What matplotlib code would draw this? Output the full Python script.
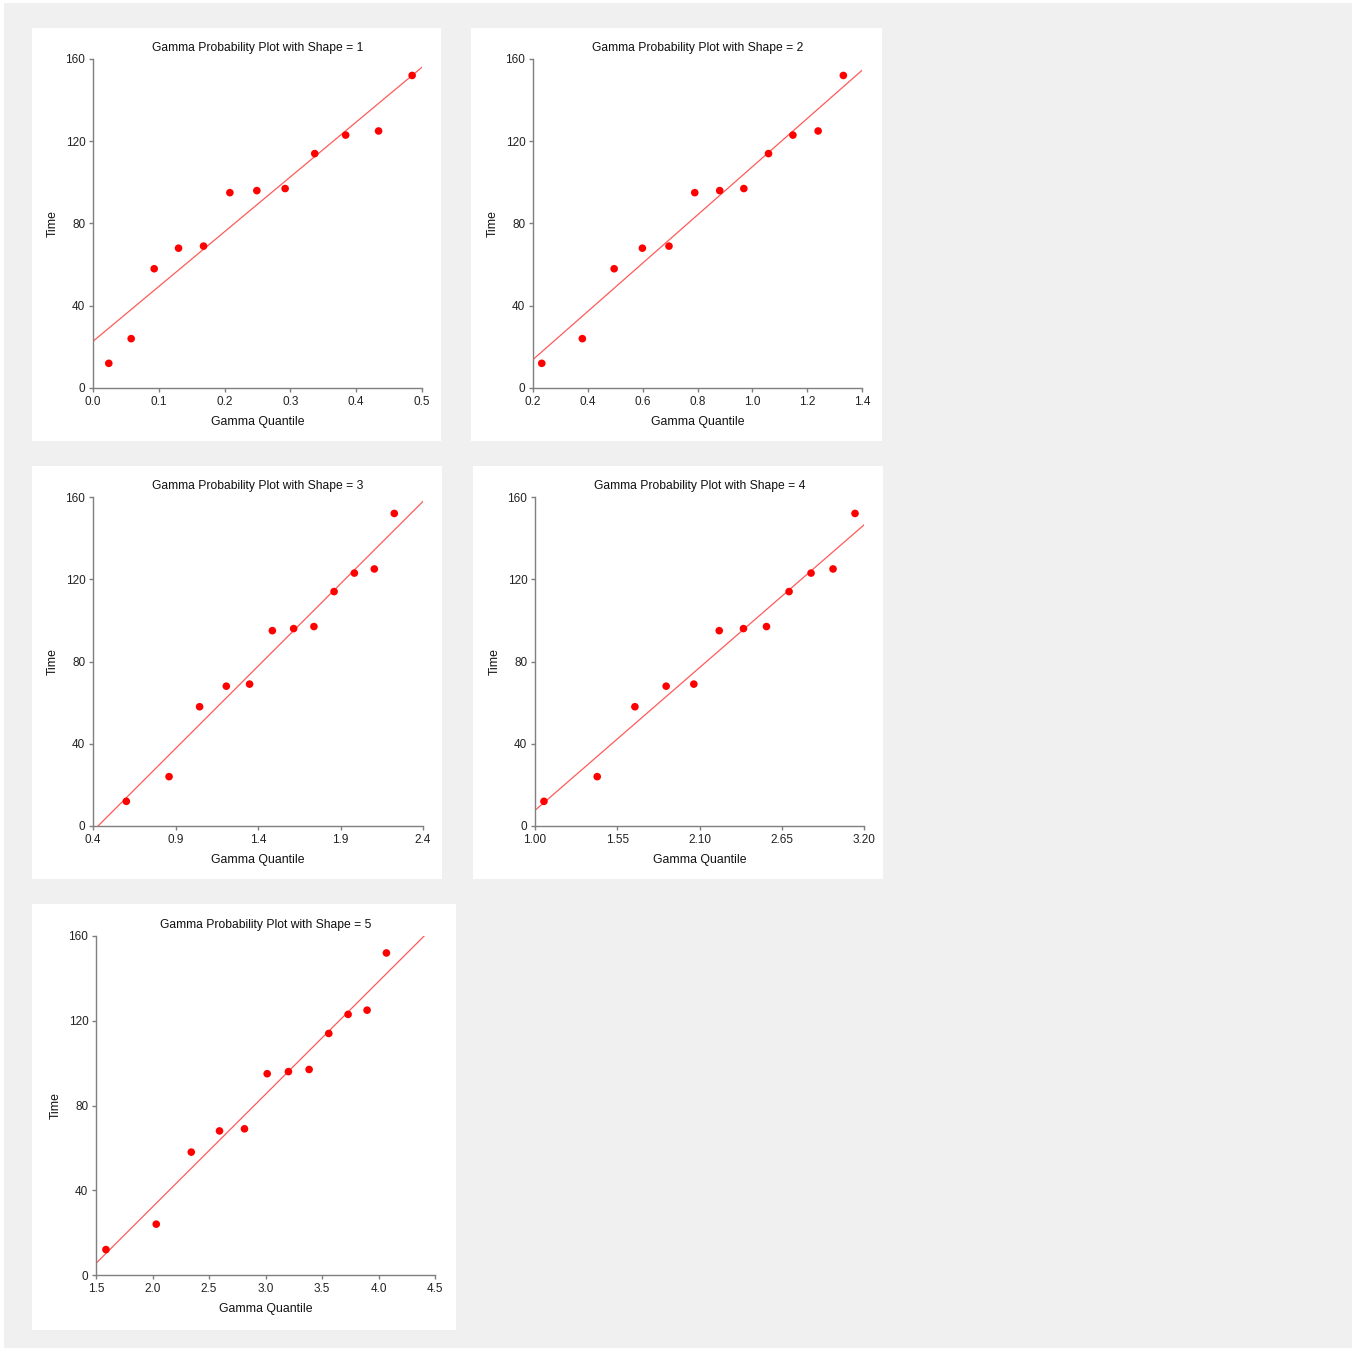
import matplotlib.pyplot as plt
from matplotlib.patches import Rectangle

plt.rcParams['font.family'] = ['Liberation Sans', 'DejaVu Sans']

# observed times (sorted)
time = [12, 24, 58, 68, 69, 95, 96, 97, 114, 123, 125, 152]

# gamma quantiles
q_shape1 = [0.024, 0.058, 0.093, 0.130, 0.168, 0.208, 0.249, 0.292, 0.337, 0.384, 0.434, 0.485]
q_shape2 = [0.232, 0.380, 0.496, 0.599, 0.696, 0.790, 0.881, 0.969, 1.059, 1.148, 1.240, 1.332]
q_shape3 = [0.602, 0.861, 1.046, 1.208, 1.349, 1.487, 1.616, 1.739, 1.861, 1.984, 2.105, 2.226]
q_shape4 = [1.060, 1.416, 1.668, 1.877, 2.062, 2.232, 2.394, 2.548, 2.699, 2.846, 2.993, 3.140]
q_shape5 = [1.588, 2.033, 2.343, 2.593, 2.814, 3.015, 3.203, 3.386, 3.560, 3.731, 3.899, 4.070]
quantiles = [q_shape1, q_shape2, q_shape3, q_shape4, q_shape5]
shapes = [1, 2, 3, 4, 5]

# fitted line (intercept, slope) for each panel
fit_intercept = [22.7, -9.6, -34.5, -55.5, -74.3]
fit_slope = [266.6, 117.2, 80.15, 63.1, 53.2]

# x-axis ticks per panel
x_ticks = [
    [0.0, 0.1, 0.2, 0.3, 0.4, 0.5],
    [0.2, 0.4, 0.6, 0.8, 1.0, 1.2, 1.4],
    [0.4, 0.9, 1.4, 1.9, 2.4],
    [1.00, 1.55, 2.10, 2.65, 3.20],
    [1.5, 2.0, 2.5, 3.0, 3.5, 4.0, 4.5],
]
x_fmt = ['%.1f', '%.1f', '%.1f', '%.2f', '%.1f']
y_ticks = [0, 40, 80, 120, 160]

W, H = 1354, 1350
fig = plt.figure(figsize=(W / 100, H / 100), dpi=100)
fig.patch.set_facecolor('white')

def fx(px):
    return px / W

def fy(py):
    return 1 - py / H

# grey backdrop
fig.add_artist(Rectangle((fx(4), fy(1348)), fx(1348), 1345 / H, transform=fig.transFigure,
                         facecolor='#f0f0f0', edgecolor='none', zorder=-10))

# white panels (left, top, right, bottom) in pixels
panels = [(32, 28, 441, 441), (471, 28, 882, 441), (32, 466, 442, 879),
          (473, 466, 883, 879), (32, 904, 456, 1330)]
# axes boxes (left, top, right, bottom) in pixels
boxes = [(93, 59, 422, 388), (533, 59, 862, 388), (93, 497, 423, 826),
         (535, 497, 864, 826), (96, 936, 435, 1275)]

grey = '#7f7f7f'
for i in range(5):
    l, t, r, b = panels[i]
    fig.add_artist(Rectangle((fx(l), fy(b)), (r - l) / W, (b - t) / H, transform=fig.transFigure,
                             facecolor='white', edgecolor='none', zorder=-5))

    l, t, r, b = boxes[i]
    ax = fig.add_axes([fx(l), fy(b), (r - l) / W, (b - t) / H])
    ax.set_facecolor('none')
    xt = x_ticks[i]
    ax.set_xlim(xt[0], xt[-1])
    ax.set_ylim(0, 160)

    xs = [xt[0], xt[-1]]
    ys = [fit_intercept[i] + fit_slope[i] * v for v in xs]
    ax.plot(xs, ys, color='#ff5a5a', lw=0.9, zorder=2)
    ax.scatter(quantiles[i], time, s=30, color='red', edgecolors='none', zorder=3, clip_on=False)

    ax.set_xticks(xt)
    ax.set_xticklabels([x_fmt[i] % v for v in xt])
    ax.set_yticks(y_ticks)
    for side in ['top', 'right']:
        ax.spines[side].set_visible(False)
    for side in ['left', 'bottom']:
        ax.spines[side].set_color(grey)
        ax.spines[side].set_linewidth(1.0)
    ax.tick_params(direction='out', length=3, width=1, color=grey, labelsize=8.5,
                   labelcolor='#222222', pad=2.5)

    ax.set_title('Gamma Probability Plot with Shape = %d' % shapes[i], fontsize=8.7,
                 color='#111111', pad=6)
    ax.set_xlabel('Gamma Quantile', fontsize=8.8, color='#111111', labelpad=6)
    ax.set_ylabel('Time', fontsize=8.8, color='#111111', labelpad=5)

fig.savefig('out.png', dpi=100)
